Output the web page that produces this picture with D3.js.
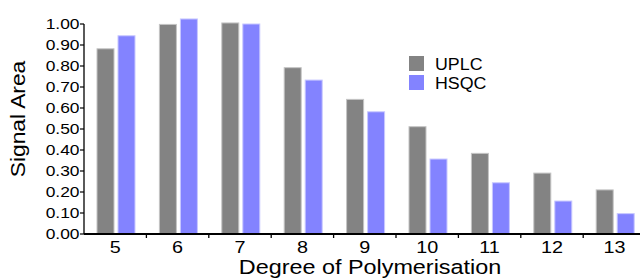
<!DOCTYPE html>
<html>
<head>
<meta charset="utf-8">
<script src="https://cdn.jsdelivr.net/npm/d3@7"></script>
<style>
  html, body { margin: 0; padding: 0; background: #fff; }
  svg { display: block; }
  text { font-family: "Liberation Sans", Arial, Helvetica, sans-serif; fill: #000; }
</style>
</head>
<body>
<svg id="chart" width="640" height="278"></svg>
<script>
const categories = ["5", "6", "7", "8", "9", "10", "11", "12", "13"];
const seriesNames = ["UPLC", "HSQC"];
const uplc = [0.882, 0.998, 1.005, 0.792, 0.641, 0.511, 0.384, 0.290, 0.210];
const hsqc = [0.944, 1.024, 1.000, 0.733, 0.582, 0.357, 0.244, 0.157, 0.097];
const yTicks = [0, 0.1, 0.2, 0.3, 0.4, 0.5, 0.6, 0.7, 0.8, 0.9, 1.0];
const colors = ["#838383", "#8383ff"];
const strokes = ["#c4c4c4", "#c8c8ff"];

const svg = d3.select("#chart");
const x0 = 84, y0 = 234, yTop = 24;
const x = d3.scaleBand().domain(categories).range([x0, x0 + 9 * 62.4]).paddingInner(0).paddingOuter(0);
const y = d3.scaleLinear().domain([0, 1]).range([y0, yTop]);

const series = [uplc, hsqc];
const barOffset = [13, 34];
const barW = 17;

// bars
series.forEach((vals, si) => {
  svg.append("g").selectAll("rect").data(vals).join("rect")
    .attr("x", (d, i) => x(categories[i]) + barOffset[si])
    .attr("y", d => y(d))
    .attr("width", barW)
    .attr("height", d => y(0) - y(d))
    .attr("fill", colors[si])
    .attr("stroke", strokes[si])
    .attr("stroke-width", 1);
});

// y axis
const ya = svg.append("g");
ya.append("line").attr("x1", x0).attr("x2", x0).attr("y1", y(1)).attr("y2", y0)
  .attr("stroke", "#000").attr("stroke-width", 1.3);
yTicks.forEach(t => {
  ya.append("line").attr("x1", x0 - 4).attr("x2", x0).attr("y1", y(t)).attr("y2", y(t))
    .attr("stroke", "#000").attr("stroke-width", 1.2);
  ya.append("text")
    .attr("transform", `translate(${x0 - 4.5},${y(t)}) scale(1.2,1)`)
    .attr("dy", "0.33em")
    .attr("text-anchor", "end")
    .attr("font-size", "14.5px")
    .text(d3.format(".2f")(t));
});

// x axis
const xa = svg.append("g");
xa.append("line").attr("x1", x0).attr("x2", 640).attr("y1", y0).attr("y2", y0)
  .attr("stroke", "#000").attr("stroke-width", 2);
categories.slice(1).forEach(c => {
  xa.append("line").attr("x1", x(c)).attr("x2", x(c)).attr("y1", y0).attr("y2", y0 + 4)
    .attr("stroke", "#000").attr("stroke-width", 1.3);
});
categories.forEach(c => {
  xa.append("text")
    .attr("transform", `translate(${x(c) + x.bandwidth() / 2},253) scale(1.2,1)`)
    .attr("text-anchor", "middle")
    .attr("font-size", "16.5px")
    .text(c);
});

// axis titles
svg.append("text")
  .attr("transform", "translate(370,274) scale(1.2,1)")
  .attr("text-anchor", "middle")
  .attr("font-size", "19.5px")
  .text("Degree of Polymerisation");
svg.append("text")
  .attr("transform", "translate(25,119) rotate(-90) scale(1.14,1)")
  .attr("text-anchor", "middle")
  .attr("font-size", "20px")
  .text("Signal Area");

// legend
const lg = svg.append("g");
seriesNames.forEach((n, i) => {
  lg.append("rect").attr("x", 409).attr("y", 56 + i * 19).attr("width", 15).attr("height", 15)
    .attr("fill", colors[i]);
  lg.append("text")
    .attr("transform", `translate(435,${69.5 + i * 19}) scale(1.08,1)`)
    .attr("font-size", "16.5px")
    .text(n);
});
</script>
</body>
</html>
